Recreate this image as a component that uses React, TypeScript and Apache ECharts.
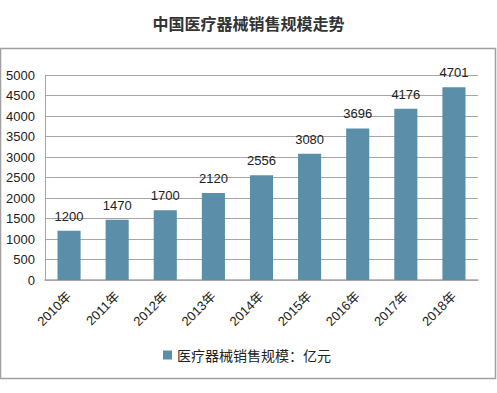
import React, { useEffect, useRef } from "react";
import * as echarts from "echarts";

const categories = ["2010年", "2011年", "2012年", "2013年", "2014年", "2015年", "2016年", "2017年", "2018年"];
const salesValues = [1200, 1470, 1700, 2120, 2556, 3080, 3696, 4176, 4701];
const seriesName = "医疗器械销售规模：亿元";
const titleText = "中国医疗器械销售规模走势";

export default function App() {
  const ref = useRef<HTMLDivElement>(null);
  useEffect(() => {
    if (!ref.current) return;
    const chart = echarts.init(ref.current, null, { renderer: "svg" });
    chart.setOption({
      animation: false,
      backgroundColor: "#ffffff",
      title: {
        text: titleText,
        left: "center",
        top: 10,
        textStyle: { fontSize: 16, fontWeight: "bold", color: "#333333", fontFamily: "Noto Sans CJK SC" },
      },
      graphic: [
        {
          type: "rect",
          shape: { x: 0.5, y: 48.5, width: 495, height: 330 },
          style: { fill: "none", stroke: "#a0a0a0", lineWidth: 1.5 },
          silent: true,
        },
      ],
      legend: {
        bottom: 26,
        left: 158,
        itemWidth: 9,
        itemHeight: 9,
        itemGap: 6,
        textStyle: { fontSize: 14, color: "#222", fontFamily: "Noto Sans CJK SC" },
        data: [{ name: seriesName, icon: "rect" }],
      },
      grid: { left: 45, right: 19, top: 75, bottom: 113, containLabel: false },
      xAxis: {
        type: "category",
        data: categories,
        axisLine: { lineStyle: { color: "#a6a6a6", width: 1.5 } },
        axisTick: { show: false },
        axisLabel: { rotate: 45, fontSize: 13, color: "#222", margin: 14, fontFamily: "Liberation Sans, Noto Sans CJK SC" },
      },
      yAxis: {
        type: "value",
        min: 0,
        max: 5000,
        interval: 500,
        axisLine: { show: true, lineStyle: { color: "#a6a6a6" } },
        axisTick: { show: false },
        splitLine: { lineStyle: { color: "#a6a6a6" } },
        axisLabel: {
          fontSize: 13,
          color: "#222",
          margin: 10,
          fontFamily: "Liberation Sans",
          formatter: (v: number) => String(v),
        },
      },
      series: [
        {
          name: seriesName,
          type: "bar",
          data: salesValues,
          barWidth: "48%",
          itemStyle: { color: "#5b8ea8" },
          label: { show: true, position: "top", distance: 8, fontSize: 13, color: "#222", fontFamily: "Liberation Sans" },
        },
      ],
    });
    return () => chart.dispose();
  }, []);
  return <div ref={ref} style={{ position: "fixed", left: 0, top: 0, width: 497, height: 393 }} />;
}
